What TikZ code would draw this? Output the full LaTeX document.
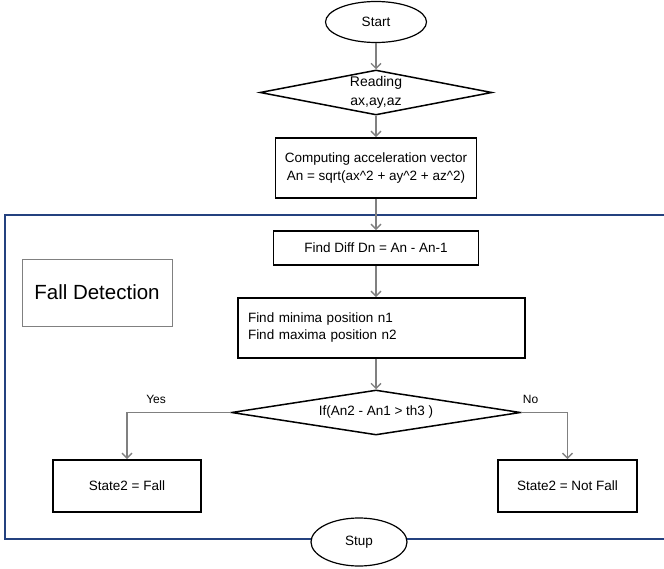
\documentclass[tikz,border=0pt]{standalone}
\usepackage{fontspec}
\setmainfont{Liberation Sans}
\usetikzlibrary{shapes.geometric,arrows.meta}
\definecolor{framebl}{HTML}{24417F}
\definecolor{arrgray}{HTML}{808080}
\begin{document}
\begin{tikzpicture}[x=1pt,y=-1pt,
  txt/.style={font=\fontsize{13.5}{18}\selectfont},
  stepbox/.style={draw=black, line width=1.6pt, inner sep=0pt, align=center, txt},
  term/.style={ellipse, draw=black, line width=1.2pt, fill=white, inner sep=0pt, txt},
  decide/.style={diamond, draw=black, line width=1.5pt, inner sep=0pt, aspect=5, align=center, txt},
  flow/.style={draw=arrgray, line width=1.4pt, -{Straight Barb[length=5pt,width=10pt]}},
  lbl/.style={font=\fontsize{12}{14}\selectfont}
]
\useasboundingbox (0,0) rectangle (664,569);
\draw[framebl, line width=1.5pt] (670,215) -- (5,215) -- (5,539) -- (670,539);

\node[term, minimum width=101pt, minimum height=41pt] (start) at (376,22) {Start};
\node[decide, minimum width=232pt, minimum height=45pt, font=\fontsize{14}{19}\selectfont] (read) at (376,92.5) {Reading\\ax,ay,az};
\node[stepbox, minimum width=201pt, minimum height=60pt] (comp) at (376,168) {Computing acceleration vector\\An = sqrt(ax\textasciicircum2 + ay\textasciicircum2 + az\textasciicircum2)};
\node[stepbox, minimum width=205pt, minimum height=34pt] (diff) at (376,248) {Find Diff Dn = An - An-1};
\node[stepbox, minimum height=60pt, inner xsep=10pt, text width=267pt, align=left, font=\fontsize{13.5}{17}\selectfont] (find) at (381.5,328) {Find minima position n1\\Find maxima position n2};
\node[decide, minimum width=289pt, minimum height=45pt] (dec) at (376,412.5) {If(An2 - An1 > th3 )};
\node[stepbox, minimum width=148pt, minimum height=52pt] (fall) at (127,486) {State2 = Fall};
\node[stepbox, minimum width=139pt, minimum height=52pt] (nfall) at (567.5,486) {State2 = Not Fall};
\node[draw=gray, line width=0.8pt, minimum width=150pt, minimum height=67pt, font=\fontsize{20.5}{24}\selectfont] (fd) at (97,292.5) {Fall Detection};
\node[term, minimum width=96pt, minimum height=48pt] (stop) at (359,542) {Stup};

\draw[flow] (start) -- (read);
\draw[flow] (read) -- (comp);
\draw[flow] (comp) -- (diff);
\draw[flow] (diff.south) -- (diff.south |- find.north);
\draw[flow] (find.south -| dec.north) -- (dec.north);
\draw[flow] (dec.west) -| node[lbl, pos=0.36, above=5pt] {Yes} (fall.north);
\draw[flow] (dec.east) -| node[lbl, pos=0.1, above=5pt] {No} (nfall.north);
\end{tikzpicture}
\end{document}
